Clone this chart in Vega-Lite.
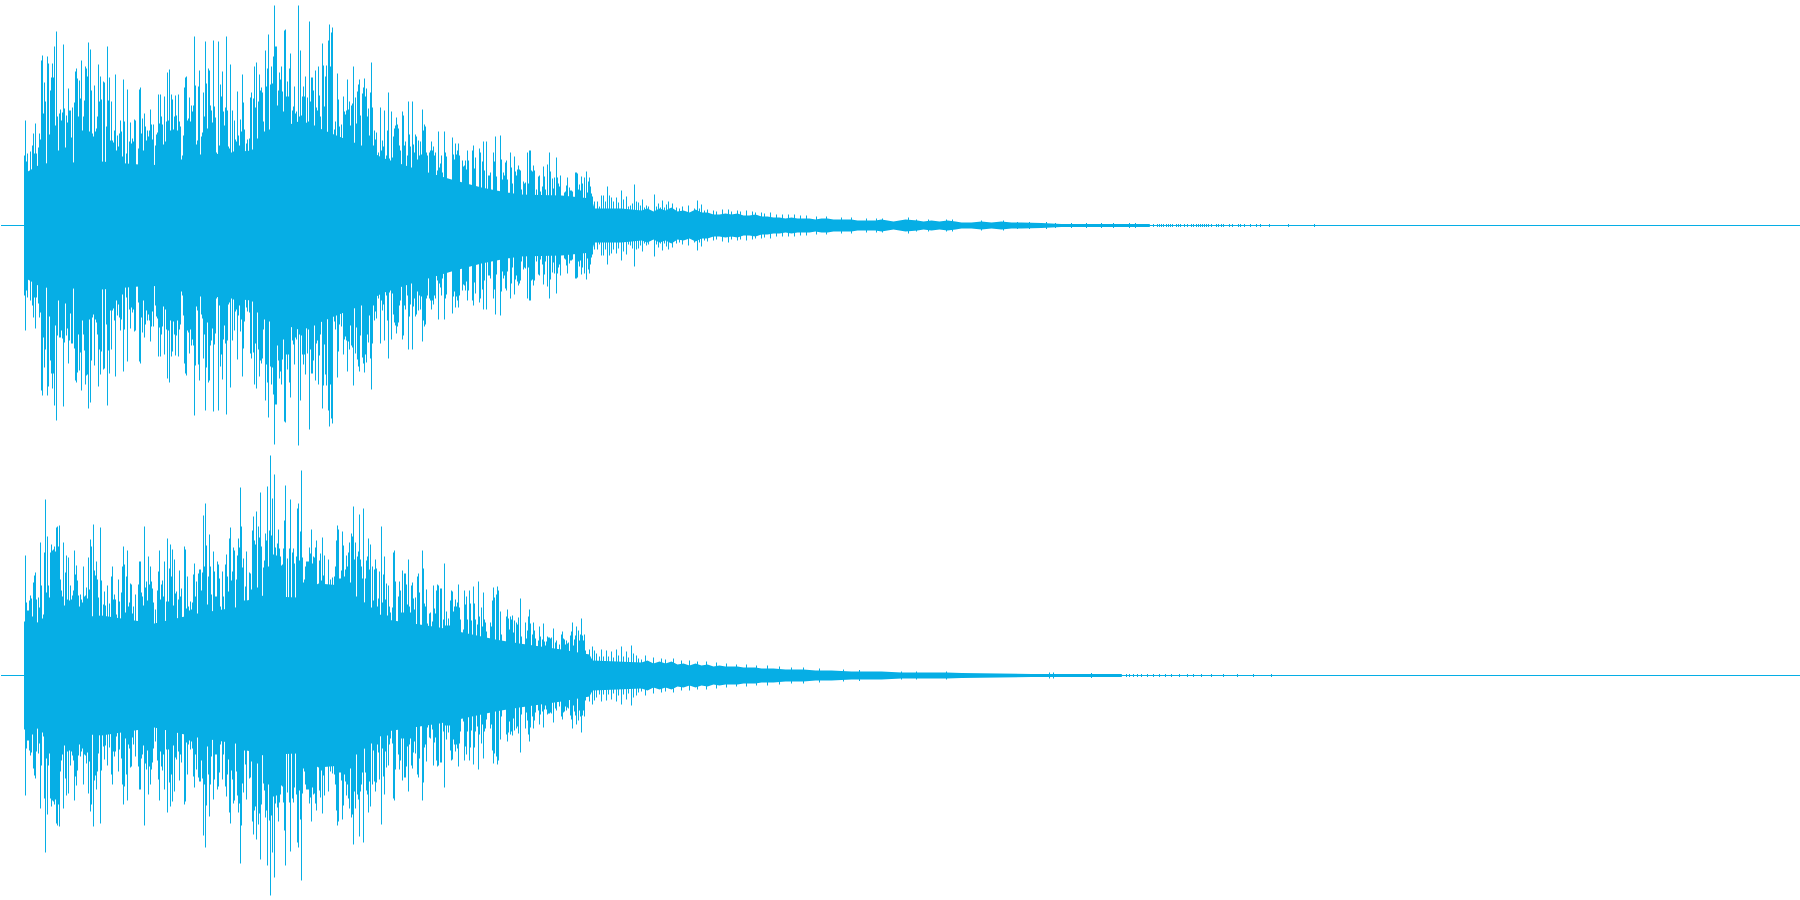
{"$schema":"https://vega.github.io/schema/vega-lite/v6.json","padding":0,"background":"#ffffff","spacing":0,"config":{"view":{"stroke":null},"concat":{"spacing":0}},
"datasets":{
"coreL":[{"t":23,"h":52,"l":-52},{"t":40,"h":62,"l":-62},{"t":100,"h":64,"l":-64},{"t":150,"h":60,"l":-60},{"t":200,"h":70,"l":-70},{"t":250,"h":75,"l":-75},{"t":270,"h":95,"l":-95},{"t":300,"h":105,"l":-105},{"t":330,"h":92,"l":-92},{"t":360,"h":80,"l":-80},{"t":380,"h":68,"l":-68},{"t":410,"h":58,"l":-58},{"t":450,"h":46,"l":-46},{"t":480,"h":38,"l":-38},{"t":500,"h":34,"l":-34},{"t":518,"h":31,"l":-31},{"t":560,"h":30,"l":-30},{"t":590,"h":27,"l":-27},{"t":593,"h":17,"l":-17},{"t":620,"h":17,"l":-17},{"t":640,"h":15,"l":-15},{"t":646,"h":17,"l":-17},{"t":652,"h":14,"l":-14},{"t":658,"h":17,"l":-17},{"t":664,"h":15,"l":-15},{"t":670,"h":18,"l":-18},{"t":676,"h":14,"l":-14},{"t":682,"h":15,"l":-15},{"t":688,"h":13,"l":-13},{"t":694,"h":16,"l":-16},{"t":700,"h":13,"l":-13},{"t":706,"h":13,"l":-13},{"t":712,"h":11,"l":-11},{"t":718,"h":11,"l":-11},{"t":724,"h":12,"l":-12},{"t":730,"h":11,"l":-11},{"t":736,"h":12,"l":-12},{"t":742,"h":10,"l":-10},{"t":748,"h":10,"l":-10},{"t":754,"h":11,"l":-11},{"t":760,"h":9,"l":-9},{"t":766,"h":9,"l":-9},{"t":772,"h":8,"l":-8},{"t":778,"h":8,"l":-8},{"t":784,"h":7,"l":-7},{"t":790,"h":8,"l":-8},{"t":796,"h":7,"l":-7},{"t":808,"h":7,"l":-7},{"t":814,"h":6,"l":-6},{"t":820,"h":7,"l":-7},{"t":826,"h":7,"l":-7},{"t":832,"h":6,"l":-6},{"t":850,"h":6,"l":-6},{"t":856,"h":5,"l":-5},{"t":874,"h":5,"l":-5},{"t":880,"h":6,"l":-6},{"t":886,"h":5,"l":-5},{"t":892,"h":4,"l":-4},{"t":898,"h":5,"l":-5},{"t":904,"h":6,"l":-6},{"t":916,"h":5,"l":-5},{"t":922,"h":4,"l":-4},{"t":930,"h":5,"l":-5},{"t":938,"h":4,"l":-4},{"t":946,"h":5,"l":-5},{"t":954,"h":4,"l":-4},{"t":960,"h":3,"l":-3},{"t":970,"h":3,"l":-3},{"t":980,"h":4,"l":-4},{"t":990,"h":3,"l":-3},{"t":1000,"h":4,"l":-4},{"t":1010,"h":3,"l":-3},{"t":1020,"h":3,"l":-3},{"t":1040,"h":2.5,"l":-2.5},{"t":1060,"h":1.5,"l":-1.5},{"t":1148,"h":1.5,"l":-1.5},{"t":1149,"h":0,"l":0}],
"coreR":[{"t":23,"h":47,"l":-47},{"t":40,"h":55,"l":-55},{"t":100,"h":60,"l":-60},{"t":153,"h":52,"l":-52},{"t":196,"h":62,"l":-62},{"t":234,"h":68,"l":-68},{"t":255,"h":80,"l":-80},{"t":294,"h":78,"l":-78},{"t":317,"h":92,"l":-92},{"t":340,"h":90,"l":-90},{"t":370,"h":68,"l":-68},{"t":385,"h":56,"l":-56},{"t":438,"h":48,"l":-48},{"t":494,"h":36,"l":-36},{"t":518,"h":32,"l":-32},{"t":560,"h":26,"l":-26},{"t":588,"h":21,"l":-21},{"t":591,"h":15,"l":-15},{"t":640,"h":13,"l":-13},{"t":646,"h":15,"l":-15},{"t":652,"h":12,"l":-12},{"t":658,"h":14,"l":-14},{"t":664,"h":12,"l":-12},{"t":670,"h":14,"l":-14},{"t":676,"h":11,"l":-11},{"t":682,"h":12,"l":-12},{"t":688,"h":10,"l":-10},{"t":694,"h":12,"l":-12},{"t":700,"h":10,"l":-10},{"t":706,"h":11,"l":-11},{"t":712,"h":9,"l":-9},{"t":718,"h":10,"l":-10},{"t":724,"h":9,"l":-9},{"t":736,"h":9,"l":-9},{"t":742,"h":8,"l":-8},{"t":754,"h":8,"l":-8},{"t":760,"h":7,"l":-7},{"t":772,"h":7,"l":-7},{"t":784,"h":6,"l":-6},{"t":802,"h":6,"l":-6},{"t":814,"h":5,"l":-5},{"t":830,"h":5,"l":-5},{"t":850,"h":4,"l":-4},{"t":880,"h":4,"l":-4},{"t":900,"h":3,"l":-3},{"t":945,"h":3,"l":-3},{"t":960,"h":2.5,"l":-2.5},{"t":1030,"h":1.5,"l":-1.5},{"t":1120,"h":1.5,"l":-1.5},{"t":1121,"h":0,"l":0}],
"L":[{"t":23,"h":70,"l":-70},{"t":24,"h":105,"l":-105},{"t":25,"h":64,"l":-65},{"t":26,"h":72,"l":-72},{"t":29,"h":74,"l":-75},{"t":31,"h":80,"l":-80},{"t":32,"h":92,"l":-92},{"t":33,"h":72,"l":-72},{"t":34,"h":102,"l":-103},{"t":35,"h":72,"l":-72},{"t":37,"h":78,"l":-78},{"t":38,"h":92,"l":-92},{"t":39,"h":86,"l":-87},{"t":40,"h":165,"l":-165},{"t":41,"h":170,"l":-170},{"t":42,"h":112,"l":-112},{"t":43,"h":143,"l":-142},{"t":44,"h":124,"l":-124},{"t":46,"h":169,"l":-170},{"t":47,"h":162,"l":-161},{"t":48,"h":91,"l":-91},{"t":49,"h":135,"l":-135},{"t":50,"h":148,"l":-148},{"t":51,"h":162,"l":-163},{"t":52,"h":148,"l":-148},{"t":53,"h":179,"l":-180},{"t":54,"h":100,"l":-100},{"t":55,"h":194,"l":-195},{"t":56,"h":109,"l":-110},{"t":57,"h":75,"l":-75},{"t":58,"h":112,"l":-112},{"t":59,"h":116,"l":-112},{"t":60,"h":105,"l":-105},{"t":61,"h":113,"l":-113},{"t":62,"h":181,"l":-181},{"t":63,"h":117,"l":-117},{"t":64,"h":78,"l":-78},{"t":65,"h":110,"l":-110},{"t":66,"h":103,"l":-103},{"t":67,"h":137,"l":-138},{"t":68,"h":115,"l":-115},{"t":69,"h":115,"l":-88},{"t":70,"h":88,"l":-118},{"t":71,"h":118,"l":-118},{"t":73,"h":123,"l":-123},{"t":74,"h":154,"l":-155},{"t":75,"h":157,"l":-157},{"t":76,"h":147,"l":-147},{"t":77,"h":109,"l":-109},{"t":78,"h":145,"l":-145},{"t":79,"h":127,"l":-127},{"t":80,"h":165,"l":-165},{"t":81,"h":95,"l":-95},{"t":82,"h":109,"l":-109},{"t":83,"h":125,"l":-125},{"t":84,"h":159,"l":-159},{"t":85,"h":157,"l":-150},{"t":86,"h":149,"l":-149},{"t":87,"h":183,"l":-183},{"t":88,"h":94,"l":-94},{"t":89,"h":176,"l":-177},{"t":90,"h":135,"l":-135},{"t":91,"h":92,"l":-92},{"t":92,"h":89,"l":-89},{"t":93,"h":140,"l":-140},{"t":94,"h":94,"l":-94},{"t":95,"h":97,"l":-97},{"t":96,"h":109,"l":-109},{"t":97,"h":161,"l":-161},{"t":98,"h":124,"l":-124},{"t":99,"h":149,"l":-149},{"t":100,"h":126,"l":-126},{"t":102,"h":144,"l":-144},{"t":103,"h":143,"l":-143},{"t":105,"h":99,"l":-99},{"t":106,"h":179,"l":-180},{"t":107,"h":125,"l":-125},{"t":108,"h":148,"l":-148},{"t":109,"h":85,"l":-85},{"t":110,"h":124,"l":-124},{"t":111,"h":85,"l":-85},{"t":112,"h":83,"l":-83},{"t":113,"h":95,"l":-95},{"t":114,"h":151,"l":-151},{"t":115,"h":75,"l":-75},{"t":116,"h":90,"l":-90},{"t":117,"h":79,"l":-79},{"t":118,"h":92,"l":-92},{"t":119,"h":105,"l":-105},{"t":120,"h":94,"l":-94},{"t":121,"h":69,"l":-69},{"t":122,"h":146,"l":-146},{"t":123,"h":104,"l":-104},{"t":125,"h":72,"l":-72},{"t":126,"h":136,"l":-136},{"t":128,"h":84,"l":-84},{"t":129,"h":103,"l":-103},{"t":130,"h":82,"l":-82},{"t":131,"h":87,"l":-87},{"t":132,"h":84,"l":-84},{"t":133,"h":106,"l":-106},{"t":134,"h":105,"l":-105},{"t":137,"h":77,"l":-77},{"t":138,"h":136,"l":-136},{"t":139,"h":138,"l":-138},{"t":140,"h":92,"l":-92},{"t":141,"h":107,"l":-107},{"t":142,"h":75,"l":-75},{"t":143,"h":112,"l":-112},{"t":144,"h":99,"l":-99},{"t":145,"h":85,"l":-85},{"t":146,"h":95,"l":-95},{"t":147,"h":89,"l":-89},{"t":148,"h":95,"l":-95},{"t":149,"h":116,"l":-116},{"t":150,"h":101,"l":-101},{"t":151,"h":86,"l":-86},{"t":152,"h":101,"l":-101},{"t":154,"h":80,"l":-80},{"t":155,"h":91,"l":-91},{"t":156,"h":93,"l":-93},{"t":157,"h":131,"l":-131},{"t":158,"h":102,"l":-102},{"t":159,"h":131,"l":-131},{"t":160,"h":109,"l":-109},{"t":161,"h":101,"l":-101},{"t":162,"h":81,"l":-81},{"t":163,"h":129,"l":-129},{"t":164,"h":84,"l":-84},{"t":165,"h":104,"l":-104},{"t":166,"h":153,"l":-153},{"t":167,"h":105,"l":-105},{"t":168,"h":156,"l":-157},{"t":169,"h":95,"l":-95},{"t":170,"h":131,"l":-131},{"t":171,"h":126,"l":-126},{"t":172,"h":96,"l":-96},{"t":173,"h":109,"l":-109},{"t":174,"h":130,"l":-130},{"t":175,"h":110,"l":-110},{"t":176,"h":95,"l":-95},{"t":177,"h":131,"l":-131},{"t":178,"h":104,"l":-104},{"t":179,"h":99,"l":-99},{"t":181,"h":70,"l":-70},{"t":182,"h":90,"l":-90},{"t":183,"h":138,"l":-138},{"t":184,"h":148,"l":-148},{"t":185,"h":149,"l":-150},{"t":186,"h":105,"l":-105},{"t":187,"h":107,"l":-107},{"t":188,"h":128,"l":-128},{"t":189,"h":104,"l":-104},{"t":190,"h":120,"l":-120},{"t":191,"h":114,"l":-114},{"t":192,"h":120,"l":-120},{"t":193,"h":189,"l":-190},{"t":194,"h":140,"l":-140},{"t":195,"h":81,"l":-81},{"t":196,"h":85,"l":-85},{"t":197,"h":139,"l":-139},{"t":198,"h":155,"l":-155},{"t":199,"h":71,"l":-71},{"t":200,"h":89,"l":-89},{"t":201,"h":93,"l":-93},{"t":202,"h":133,"l":-133},{"t":203,"h":109,"l":-109},{"t":204,"h":184,"l":-185},{"t":205,"h":142,"l":-142},{"t":206,"h":97,"l":-97},{"t":207,"h":157,"l":-157},{"t":208,"h":155,"l":-155},{"t":209,"h":120,"l":-120},{"t":210,"h":115,"l":-115},{"t":211,"h":103,"l":-103},{"t":212,"h":185,"l":-186},{"t":213,"h":119,"l":-119},{"t":214,"h":108,"l":-108},{"t":215,"h":73,"l":-73},{"t":217,"h":184,"l":-185},{"t":218,"h":80,"l":-80},{"t":219,"h":141,"l":-141},{"t":220,"h":129,"l":-129},{"t":221,"h":154,"l":-154},{"t":222,"h":114,"l":-114},{"t":223,"h":100,"l":-100},{"t":224,"h":118,"l":-118},{"t":225,"h":189,"l":-189},{"t":226,"h":115,"l":-115},{"t":227,"h":79,"l":-79},{"t":228,"h":77,"l":-77},{"t":229,"h":161,"l":-162},{"t":231,"h":115,"l":-115},{"t":232,"h":74,"l":-74},{"t":233,"h":105,"l":-105},{"t":234,"h":86,"l":-86},{"t":235,"h":84,"l":-84},{"t":236,"h":134,"l":-134},{"t":237,"h":90,"l":-90},{"t":238,"h":80,"l":-80},{"t":239,"h":106,"l":-106},{"t":240,"h":94,"l":-94},{"t":241,"h":151,"l":-151},{"t":242,"h":123,"l":-123},{"t":243,"h":96,"l":-96},{"t":245,"h":82,"l":-82},{"t":246,"h":86,"l":-86},{"t":248,"h":87,"l":-87},{"t":249,"h":128,"l":-128},{"t":250,"h":133,"l":-133},{"t":252,"h":127,"l":-127},{"t":253,"h":159,"l":-159},{"t":254,"h":118,"l":-118},{"t":255,"h":163,"l":-163},{"t":256,"h":87,"l":-87},{"t":257,"h":124,"l":-124},{"t":258,"h":151,"l":-151},{"t":259,"h":135,"l":-135},{"t":260,"h":138,"l":-138},{"t":261,"h":133,"l":-133},{"t":262,"h":104,"l":-104},{"t":263,"h":94,"l":-94},{"t":264,"h":175,"l":-175},{"t":265,"h":139,"l":-139},{"t":266,"h":157,"l":-157},{"t":267,"h":191,"l":-192},{"t":268,"h":96,"l":-96},{"t":269,"h":141,"l":-141},{"t":270,"h":159,"l":-159},{"t":271,"h":142,"l":-142},{"t":272,"h":169,"l":-169},{"t":273,"h":220,"l":-219},{"t":274,"h":179,"l":-179},{"t":275,"h":179,"l":-179},{"t":276,"h":120,"l":-120},{"t":277,"h":135,"l":-135},{"t":278,"h":153,"l":-153},{"t":279,"h":146,"l":-146},{"t":280,"h":159,"l":-159},{"t":281,"h":134,"l":-134},{"t":282,"h":114,"l":-114},{"t":283,"h":195,"l":-196},{"t":284,"h":196,"l":-197},{"t":285,"h":129,"l":-129},{"t":286,"h":144,"l":-144},{"t":287,"h":129,"l":-129},{"t":288,"h":157,"l":-157},{"t":289,"h":172,"l":-172},{"t":291,"h":115,"l":-115},{"t":292,"h":119,"l":-119},{"t":293,"h":139,"l":-139},{"t":294,"h":112,"l":-112},{"t":295,"h":114,"l":-114},{"t":297,"h":220,"l":-220},{"t":298,"h":109,"l":-109},{"t":299,"h":175,"l":-175},{"t":300,"h":110,"l":-110},{"t":301,"h":129,"l":-129},{"t":302,"h":139,"l":-139},{"t":303,"h":129,"l":-129},{"t":304,"h":149,"l":-149},{"t":306,"h":128,"l":-128},{"t":307,"h":104,"l":-104},{"t":308,"h":204,"l":-204},{"t":309,"h":124,"l":-124},{"t":310,"h":148,"l":-148},{"t":311,"h":148,"l":-148},{"t":312,"h":135,"l":-135},{"t":313,"h":100,"l":-100},{"t":314,"h":155,"l":-155},{"t":315,"h":118,"l":-118},{"t":316,"h":115,"l":-115},{"t":317,"h":159,"l":-159},{"t":318,"h":130,"l":-130},{"t":319,"h":109,"l":-109},{"t":321,"h":182,"l":-183},{"t":322,"h":160,"l":-160},{"t":323,"h":119,"l":-119},{"t":324,"h":149,"l":-149},{"t":325,"h":160,"l":-160},{"t":327,"h":185,"l":-185},{"t":328,"h":201,"l":-201},{"t":329,"h":159,"l":-159},{"t":330,"h":193,"l":-193},{"t":331,"h":198,"l":-198},{"t":333,"h":96,"l":-96},{"t":334,"h":104,"l":-104},{"t":336,"h":152,"l":-152},{"t":337,"h":126,"l":-126},{"t":338,"h":99,"l":-99},{"t":340,"h":101,"l":-101},{"t":342,"h":129,"l":-129},{"t":343,"h":114,"l":-114},{"t":344,"h":111,"l":-111},{"t":345,"h":115,"l":-115},{"t":346,"h":146,"l":-146},{"t":347,"h":116,"l":-116},{"t":348,"h":124,"l":-124},{"t":349,"h":100,"l":-100},{"t":350,"h":120,"l":-120},{"t":351,"h":122,"l":-122},{"t":352,"h":159,"l":-160},{"t":354,"h":128,"l":-128},{"t":355,"h":102,"l":-102},{"t":356,"h":134,"l":-134},{"t":357,"h":141,"l":-141},{"t":358,"h":146,"l":-146},{"t":359,"h":110,"l":-110},{"t":361,"h":132,"l":-132},{"t":362,"h":138,"l":-138},{"t":363,"h":147,"l":-147},{"t":364,"h":129,"l":-129},{"t":365,"h":137,"l":-137},{"t":366,"h":109,"l":-109},{"t":367,"h":117,"l":-117},{"t":368,"h":90,"l":-90},{"t":369,"h":133,"l":-133},{"t":370,"h":163,"l":-164},{"t":371,"h":118,"l":-118},{"t":372,"h":80,"l":-80},{"t":373,"h":95,"l":-95},{"t":374,"h":86,"l":-86},{"t":375,"h":93,"l":-93},{"t":377,"h":73,"l":-73},{"t":379,"h":118,"l":-118},{"t":380,"h":75,"l":-75},{"t":381,"h":85,"l":-85},{"t":382,"h":79,"l":-79},{"t":383,"h":115,"l":-115},{"t":385,"h":70,"l":-70},{"t":386,"h":95,"l":-95},{"t":387,"h":133,"l":-133},{"t":388,"h":67,"l":-67},{"t":390,"h":114,"l":-114},{"t":391,"h":68,"l":-68},{"t":392,"h":89,"l":-89},{"t":393,"h":97,"l":-97},{"t":394,"h":100,"l":-100},{"t":395,"h":108,"l":-108},{"t":396,"h":101,"l":-101},{"t":397,"h":97,"l":-97},{"t":398,"h":80,"l":-80},{"t":399,"h":75,"l":-75},{"t":401,"h":114,"l":-114},{"t":402,"h":110,"l":-110},{"t":403,"h":80,"l":-80},{"t":404,"h":84,"l":-84},{"t":406,"h":70,"l":-70},{"t":407,"h":124,"l":-124},{"t":408,"h":91,"l":-91},{"t":409,"h":79,"l":-79},{"t":411,"h":124,"l":-124},{"t":412,"h":81,"l":-81},{"t":413,"h":73,"l":-73},{"t":414,"h":91,"l":-91},{"t":415,"h":89,"l":-89},{"t":416,"h":66,"l":-66},{"t":417,"h":85,"l":-85},{"t":418,"h":70,"l":-70},{"t":419,"h":84,"l":-84},{"t":420,"h":71,"l":-71},{"t":421,"h":116,"l":-116},{"t":422,"h":95,"l":-95},{"t":423,"h":101,"l":-101},{"t":424,"h":99,"l":-99},{"t":425,"h":73,"l":-73},{"t":426,"h":70,"l":-70},{"t":428,"h":73,"l":-73},{"t":429,"h":75,"l":-75},{"t":430,"h":84,"l":-84},{"t":431,"h":75,"l":-75},{"t":432,"h":79,"l":-79},{"t":433,"h":70,"l":-70},{"t":434,"h":73,"l":-73},{"t":436,"h":55,"l":-55},{"t":437,"h":94,"l":-94},{"t":438,"h":58,"l":-58},{"t":439,"h":62,"l":-62},{"t":440,"h":70,"l":-70},{"t":441,"h":53,"l":-53},{"t":443,"h":94,"l":-94},{"t":444,"h":73,"l":-73},{"t":445,"h":69,"l":-69},{"t":451,"h":88,"l":-88},{"t":452,"h":71,"l":-71},{"t":453,"h":66,"l":-66},{"t":454,"h":82,"l":-82},{"t":455,"h":71,"l":-71},{"t":456,"h":75,"l":-75},{"t":457,"h":82,"l":-82},{"t":458,"h":70,"l":-70},{"t":461,"h":65,"l":-65},{"t":462,"h":59,"l":-59},{"t":463,"h":60,"l":-60},{"t":464,"h":65,"l":-65},{"t":465,"h":56,"l":-56},{"t":466,"h":75,"l":-75},{"t":467,"h":65,"l":-65},{"t":471,"h":75,"l":-75},{"t":472,"h":80,"l":-80},{"t":473,"h":57,"l":-57},{"t":474,"h":68,"l":-68},{"t":478,"h":77,"l":-77},{"t":479,"h":73,"l":-73},{"t":481,"h":64,"l":-64},{"t":482,"h":84,"l":-84},{"t":483,"h":55,"l":-55},{"t":485,"h":84,"l":-84},{"t":487,"h":50,"l":-50},{"t":488,"h":50,"l":-50},{"t":489,"h":53,"l":-53},{"t":492,"h":73,"l":-73},{"t":493,"h":64,"l":-64},{"t":494,"h":89,"l":-89},{"t":495,"h":49,"l":-49},{"t":499,"h":90,"l":-90},{"t":500,"h":66,"l":-66},{"t":501,"h":46,"l":-46},{"t":502,"h":53,"l":-53},{"t":503,"h":50,"l":-50},{"t":504,"h":63,"l":-63},{"t":505,"h":65,"l":-65},{"t":506,"h":46,"l":-46},{"t":509,"h":73,"l":-73},{"t":510,"h":58,"l":-58},{"t":511,"h":42,"l":-42},{"t":513,"h":69,"l":-69},{"t":514,"h":54,"l":-54},{"t":515,"h":50,"l":-50},{"t":516,"h":56,"l":-56},{"t":517,"h":60,"l":-60},{"t":518,"h":56,"l":-58},{"t":519,"h":55,"l":-55},{"t":520,"h":36,"l":-36},{"t":522,"h":44,"l":-44},{"t":523,"h":42,"l":-42},{"t":524,"h":43,"l":-43},{"t":526,"h":73,"l":-73},{"t":527,"h":42,"l":-42},{"t":528,"h":75,"l":-75},{"t":529,"h":75,"l":-75},{"t":530,"h":55,"l":-55},{"t":531,"h":54,"l":-54},{"t":532,"h":60,"l":-60},{"t":533,"h":55,"l":-55},{"t":535,"h":36,"l":-36},{"t":537,"h":49,"l":-49},{"t":538,"h":50,"l":-50},{"t":539,"h":34,"l":-34},{"t":541,"h":39,"l":-39},{"t":542,"h":59,"l":-59},{"t":543,"h":49,"l":-49},{"t":544,"h":36,"l":-36},{"t":546,"h":61,"l":-61},{"t":548,"h":73,"l":-73},{"t":549,"h":54,"l":-54},{"t":551,"h":47,"l":-47},{"t":552,"h":37,"l":-37},{"t":553,"h":48,"l":-48},{"t":555,"h":68,"l":-68},{"t":556,"h":48,"l":-48},{"t":557,"h":42,"l":-42},{"t":558,"h":39,"l":-39},{"t":559,"h":50,"l":-50},{"t":563,"h":33,"l":-33},{"t":564,"h":34,"l":-34},{"t":565,"h":40,"l":-40},{"t":566,"h":48,"l":-48},{"t":568,"h":38,"l":-38},{"t":569,"h":35,"l":-35},{"t":570,"h":35,"l":-35},{"t":571,"h":34,"l":-34},{"t":574,"h":53,"l":-53},{"t":575,"h":53,"l":-53},{"t":576,"h":52,"l":-52},{"t":577,"h":36,"l":-36},{"t":578,"h":41,"l":-41},{"t":579,"h":35,"l":-35},{"t":580,"h":49,"l":-49},{"t":581,"h":42,"l":-42},{"t":583,"h":48,"l":-48},{"t":585,"h":54,"l":-54},{"t":586,"h":33,"l":-33},{"t":587,"h":44,"l":-44},{"t":588,"h":48,"l":-48},{"t":589,"h":39,"l":-39},{"t":590,"h":32,"l":-32},{"t":591,"h":29,"l":-29},{"t":593,"h":24,"l":-24},{"t":596,"h":24,"l":-24},{"t":598,"h":19,"l":-19},{"t":600,"h":30,"l":-30},{"t":602,"h":30,"l":-30},{"t":604,"h":24,"l":-24},{"t":606,"h":39,"l":-39},{"t":608,"h":30,"l":-30},{"t":610,"h":28,"l":-28},{"t":612,"h":24,"l":-24},{"t":615,"h":28,"l":-28},{"t":617,"h":23,"l":-23},{"t":620,"h":35,"l":-35},{"t":622,"h":26,"l":-26},{"t":625,"h":29,"l":-29},{"t":627,"h":19,"l":-19},{"t":629,"h":20,"l":-20},{"t":631,"h":22,"l":-23},{"t":633,"h":41,"l":-41},{"t":635,"h":24,"l":-24},{"t":637,"h":23,"l":-23},{"t":639,"h":20,"l":-20},{"t":641,"h":26,"l":-26},{"t":643,"h":18,"l":-18},{"t":645,"h":20,"l":-20},{"t":647,"h":19,"l":-19},{"t":653,"h":31,"l":-31},{"t":655,"h":19,"l":-19},{"t":657,"h":22,"l":-22},{"t":659,"h":18,"l":-18},{"t":661,"h":25,"l":-25},{"t":663,"h":18,"l":-18},{"t":665,"h":21,"l":-21},{"t":667,"h":24,"l":-24},{"t":671,"h":22,"l":-22},{"t":675,"h":18,"l":-18},{"t":678,"h":17,"l":-17},{"t":681,"h":19,"l":-19},{"t":687,"h":20,"l":-20},{"t":693,"h":17,"l":-17},{"t":696,"h":25,"l":-25},{"t":698,"h":17,"l":-17},{"t":700,"h":21,"l":-21},{"t":703,"h":15,"l":-15},{"t":706,"h":16,"l":-16},{"t":712,"h":15,"l":-15},{"t":715,"h":14,"l":-14},{"t":721,"h":16,"l":-16},{"t":727,"h":16,"l":-17},{"t":730,"h":14,"l":-14},{"t":736,"h":15,"l":-15},{"t":739,"h":14,"l":-14},{"t":745,"h":15,"l":-15},{"t":751,"h":14,"l":-14},{"t":754,"h":13,"l":-13},{"t":760,"h":13,"l":-13},{"t":763,"h":12,"l":-12},{"t":769,"h":13,"l":-13},{"t":775,"h":11,"l":-11},{"t":781,"h":11,"l":-11},{"t":787,"h":11,"l":-11},{"t":793,"h":11,"l":-11},{"t":799,"h":10,"l":-10},{"t":805,"h":10,"l":-10},{"t":815,"h":9,"l":-9},{"t":825,"h":9,"l":-9},{"t":840,"h":8,"l":-8},{"t":850,"h":8,"l":-8},{"t":865,"h":7,"l":-7},{"t":875,"h":7,"l":-7},{"t":881,"h":7,"l":-7},{"t":907,"h":8,"l":-8},{"t":915,"h":6,"l":-6},{"t":927,"h":6,"l":-6},{"t":945,"h":6,"l":-6},{"t":951,"h":6,"l":-6},{"t":980,"h":5,"l":-5},{"t":1002,"h":5,"l":-5},{"t":1016,"h":3.5,"l":-3.5},{"t":1028,"h":3.5,"l":-3.5},{"t":1045,"h":3.5,"l":-3.5},{"t":1054,"h":2.5,"l":-2.5},{"t":1070,"h":2.5,"l":-2.5},{"t":1085,"h":2.5,"l":-2.5},{"t":1100,"h":2.5,"l":-2.5},{"t":1112,"h":2.5,"l":-2.5},{"t":1128,"h":2.5,"l":-2.5},{"t":1134,"h":2.5,"l":-2.5},{"t":1152,"h":1.5,"l":-1.5},{"t":1156,"h":1.5,"l":-1.5},{"t":1158,"h":1.5,"l":-1.5},{"t":1160,"h":1.5,"l":-1.5},{"t":1162,"h":1.5,"l":-1.5},{"t":1165,"h":1.5,"l":-1.5},{"t":1167,"h":1.5,"l":-1.5},{"t":1169,"h":1.5,"l":-1.5},{"t":1171,"h":1.5,"l":-1.5},{"t":1175,"h":1.5,"l":-1.5},{"t":1177,"h":1.5,"l":-1.5},{"t":1179,"h":1.5,"l":-1.5},{"t":1183,"h":1.5,"l":-1.5},{"t":1186,"h":1.5,"l":-1.5},{"t":1190,"h":1.5,"l":-1.5},{"t":1192,"h":1.5,"l":-1.5},{"t":1195,"h":1.5,"l":-1.5},{"t":1197,"h":1.5,"l":-1.5},{"t":1199,"h":1.5,"l":-1.5},{"t":1201,"h":1.5,"l":-1.5},{"t":1203,"h":1.5,"l":-1.5},{"t":1205,"h":1.5,"l":-1.5},{"t":1207,"h":1.5,"l":-1.5},{"t":1210,"h":1.5,"l":-1.5},{"t":1215,"h":1.5,"l":-1.5},{"t":1217,"h":1.5,"l":-1.5},{"t":1220,"h":1.5,"l":-1.5},{"t":1222,"h":1.5,"l":-1.5},{"t":1228,"h":1.5,"l":-1.5},{"t":1231,"h":1.5,"l":-1.5},{"t":1237,"h":1.5,"l":-1.5},{"t":1239,"h":1.5,"l":-1.5},{"t":1243,"h":1.5,"l":-1.5},{"t":1249,"h":1.5,"l":-1.5},{"t":1255,"h":1.5,"l":-1.5},{"t":1259,"h":1.5,"l":-1.5},{"t":1268,"h":1.5,"l":-1.5},{"t":1287,"h":1.5,"l":-1.5},{"t":1313,"h":1.5,"l":-1.5}],
"R":[{"t":23,"h":54,"l":-54},{"t":24,"h":120,"l":-120},{"t":25,"h":73,"l":-73},{"t":26,"h":65,"l":-65},{"t":27,"h":65,"l":-65},{"t":28,"h":75,"l":-75},{"t":29,"h":80,"l":-80},{"t":30,"h":77,"l":-77},{"t":31,"h":59,"l":-59},{"t":32,"h":93,"l":-93},{"t":33,"h":100,"l":-100},{"t":34,"h":103,"l":-103},{"t":35,"h":76,"l":-76},{"t":37,"h":78,"l":-78},{"t":38,"h":68,"l":-68},{"t":39,"h":133,"l":-133},{"t":40,"h":90,"l":-90},{"t":41,"h":57,"l":-57},{"t":42,"h":61,"l":-61},{"t":43,"h":123,"l":-123},{"t":44,"h":176,"l":-177},{"t":45,"h":83,"l":-83},{"t":46,"h":139,"l":-139},{"t":47,"h":90,"l":-90},{"t":48,"h":78,"l":-78},{"t":49,"h":123,"l":-123},{"t":50,"h":131,"l":-131},{"t":51,"h":125,"l":-125},{"t":52,"h":126,"l":-126},{"t":53,"h":129,"l":-129},{"t":54,"h":124,"l":-124},{"t":55,"h":148,"l":-148},{"t":56,"h":149,"l":-150},{"t":57,"h":129,"l":-129},{"t":58,"h":150,"l":-151},{"t":59,"h":96,"l":-96},{"t":60,"h":85,"l":-85},{"t":61,"h":79,"l":-79},{"t":62,"h":133,"l":-133},{"t":63,"h":70,"l":-70},{"t":64,"h":103,"l":-103},{"t":65,"h":120,"l":-120},{"t":66,"h":76,"l":-76},{"t":67,"h":118,"l":-118},{"t":68,"h":75,"l":-75},{"t":69,"h":90,"l":-90},{"t":70,"h":76,"l":-76},{"t":71,"h":80,"l":-80},{"t":72,"h":85,"l":-85},{"t":73,"h":125,"l":-125},{"t":74,"h":101,"l":-101},{"t":75,"h":110,"l":-110},{"t":76,"h":95,"l":-95},{"t":77,"h":80,"l":-80},{"t":78,"h":69,"l":-69},{"t":79,"h":81,"l":-81},{"t":80,"h":76,"l":-76},{"t":81,"h":73,"l":-73},{"t":82,"h":109,"l":-109},{"t":83,"h":79,"l":-79},{"t":84,"h":80,"l":-80},{"t":85,"h":88,"l":-88},{"t":86,"h":77,"l":-77},{"t":87,"h":118,"l":-118},{"t":88,"h":86,"l":-86},{"t":89,"h":136,"l":-136},{"t":90,"h":129,"l":-129},{"t":92,"h":151,"l":-151},{"t":93,"h":105,"l":-105},{"t":94,"h":100,"l":-100},{"t":95,"h":114,"l":-114},{"t":96,"h":96,"l":-96},{"t":97,"h":78,"l":-78},{"t":99,"h":148,"l":-148},{"t":100,"h":95,"l":-95},{"t":102,"h":71,"l":-71},{"t":103,"h":84,"l":-84},{"t":104,"h":70,"l":-70},{"t":106,"h":90,"l":-90},{"t":108,"h":72,"l":-72},{"t":110,"h":99,"l":-99},{"t":111,"h":109,"l":-109},{"t":112,"h":76,"l":-76},{"t":113,"h":81,"l":-81},{"t":114,"h":76,"l":-76},{"t":115,"h":61,"l":-61},{"t":117,"h":96,"l":-96},{"t":118,"h":74,"l":-74},{"t":120,"h":83,"l":-83},{"t":121,"h":109,"l":-109},{"t":122,"h":129,"l":-129},{"t":123,"h":111,"l":-111},{"t":124,"h":63,"l":-63},{"t":125,"h":99,"l":-99},{"t":126,"h":125,"l":-125},{"t":127,"h":69,"l":-69},{"t":128,"h":73,"l":-73},{"t":129,"h":92,"l":-92},{"t":130,"h":91,"l":-91},{"t":131,"h":62,"l":-62},{"t":132,"h":69,"l":-69},{"t":134,"h":81,"l":-81},{"t":137,"h":91,"l":-91},{"t":138,"h":114,"l":-114},{"t":139,"h":114,"l":-114},{"t":140,"h":83,"l":-83},{"t":141,"h":79,"l":-79},{"t":142,"h":70,"l":-70},{"t":143,"h":149,"l":-150},{"t":144,"h":88,"l":-88},{"t":145,"h":94,"l":-94},{"t":146,"h":75,"l":-75},{"t":147,"h":119,"l":-119},{"t":148,"h":91,"l":-91},{"t":149,"h":109,"l":-109},{"t":150,"h":94,"l":-94},{"t":151,"h":87,"l":-87},{"t":152,"h":73,"l":-73},{"t":154,"h":66,"l":-66},{"t":156,"h":85,"l":-85},{"t":157,"h":104,"l":-104},{"t":158,"h":125,"l":-125},{"t":159,"h":76,"l":-76},{"t":160,"h":91,"l":-91},{"t":161,"h":95,"l":-95},{"t":162,"h":79,"l":-79},{"t":163,"h":114,"l":-114},{"t":165,"h":74,"l":-74},{"t":166,"h":137,"l":-137},{"t":167,"h":74,"l":-74},{"t":168,"h":107,"l":-107},{"t":169,"h":131,"l":-131},{"t":170,"h":99,"l":-99},{"t":171,"h":126,"l":-126},{"t":172,"h":70,"l":-70},{"t":173,"h":116,"l":-116},{"t":174,"h":82,"l":-82},{"t":175,"h":84,"l":-84},{"t":177,"h":76,"l":-76},{"t":178,"h":105,"l":-105},{"t":179,"h":79,"l":-79},{"t":180,"h":87,"l":-87},{"t":183,"h":129,"l":-129},{"t":184,"h":126,"l":-126},{"t":185,"h":67,"l":-67},{"t":186,"h":99,"l":-99},{"t":187,"h":69,"l":-69},{"t":188,"h":65,"l":-65},{"t":189,"h":74,"l":-74},{"t":190,"h":66,"l":-66},{"t":191,"h":73,"l":-73},{"t":192,"h":101,"l":-101},{"t":193,"h":112,"l":-112},{"t":194,"h":79,"l":-79},{"t":195,"h":94,"l":-94},{"t":197,"h":102,"l":-102},{"t":198,"h":106,"l":-106},{"t":199,"h":106,"l":-106},{"t":200,"h":85,"l":-85},{"t":201,"h":103,"l":-103},{"t":202,"h":160,"l":-160},{"t":203,"h":109,"l":-109},{"t":204,"h":172,"l":-172},{"t":205,"h":130,"l":-130},{"t":206,"h":71,"l":-71},{"t":207,"h":99,"l":-99},{"t":208,"h":141,"l":-141},{"t":209,"h":109,"l":-109},{"t":210,"h":81,"l":-81},{"t":212,"h":124,"l":-124},{"t":213,"h":104,"l":-104},{"t":214,"h":79,"l":-79},{"t":215,"h":79,"l":-79},{"t":216,"h":114,"l":-114},{"t":217,"h":111,"l":-111},{"t":218,"h":97,"l":-97},{"t":219,"h":69,"l":-69},{"t":221,"h":104,"l":-104},{"t":222,"h":79,"l":-79},{"t":224,"h":111,"l":-111},{"t":225,"h":121,"l":-121},{"t":226,"h":99,"l":-99},{"t":227,"h":84,"l":-84},{"t":228,"h":137,"l":-137},{"t":229,"h":148,"l":-148},{"t":230,"h":95,"l":-95},{"t":231,"h":104,"l":-104},{"t":232,"h":128,"l":-128},{"t":233,"h":125,"l":-125},{"t":235,"h":96,"l":-96},{"t":236,"h":120,"l":-120},{"t":237,"h":137,"l":-137},{"t":238,"h":128,"l":-128},{"t":239,"h":188,"l":-188},{"t":240,"h":149,"l":-150},{"t":241,"h":108,"l":-108},{"t":242,"h":117,"l":-117},{"t":243,"h":75,"l":-75},{"t":244,"h":89,"l":-89},{"t":245,"h":124,"l":-124},{"t":246,"h":75,"l":-75},{"t":247,"h":74,"l":-74},{"t":248,"h":103,"l":-103},{"t":249,"h":102,"l":-102},{"t":250,"h":86,"l":-86},{"t":251,"h":145,"l":-146},{"t":252,"h":159,"l":-159},{"t":253,"h":135,"l":-135},{"t":254,"h":131,"l":-131},{"t":255,"h":164,"l":-164},{"t":256,"h":88,"l":-88},{"t":257,"h":149,"l":-149},{"t":258,"h":138,"l":-138},{"t":259,"h":183,"l":-184},{"t":260,"h":129,"l":-129},{"t":262,"h":108,"l":-108},{"t":263,"h":115,"l":-115},{"t":264,"h":142,"l":-142},{"t":265,"h":135,"l":-135},{"t":266,"h":189,"l":-190},{"t":267,"h":109,"l":-109},{"t":268,"h":145,"l":-145},{"t":269,"h":220,"l":-220},{"t":270,"h":140,"l":-140},{"t":271,"h":177,"l":-177},{"t":272,"h":121,"l":-121},{"t":273,"h":201,"l":-202},{"t":274,"h":128,"l":-128},{"t":275,"h":120,"l":-120},{"t":276,"h":132,"l":-132},{"t":277,"h":146,"l":-146},{"t":278,"h":127,"l":-127},{"t":279,"h":119,"l":-119},{"t":280,"h":110,"l":-110},{"t":281,"h":111,"l":-111},{"t":282,"h":127,"l":-127},{"t":283,"h":155,"l":-155},{"t":284,"h":190,"l":-190},{"t":286,"h":117,"l":-117},{"t":288,"h":127,"l":-127},{"t":289,"h":176,"l":-176},{"t":291,"h":123,"l":-123},{"t":292,"h":127,"l":-127},{"t":293,"h":112,"l":-112},{"t":295,"h":119,"l":-119},{"t":296,"h":167,"l":-167},{"t":297,"h":172,"l":-172},{"t":298,"h":115,"l":-115},{"t":299,"h":144,"l":-144},{"t":300,"h":205,"l":-205},{"t":301,"h":118,"l":-118},{"t":302,"h":93,"l":-93},{"t":303,"h":96,"l":-96},{"t":304,"h":109,"l":-109},{"t":305,"h":114,"l":-114},{"t":306,"h":114,"l":-114},{"t":307,"h":114,"l":-114},{"t":308,"h":128,"l":-128},{"t":309,"h":122,"l":-122},{"t":310,"h":146,"l":-146},{"t":311,"h":112,"l":-112},{"t":312,"h":119,"l":-119},{"t":313,"h":118,"l":-118},{"t":314,"h":128,"l":-128},{"t":315,"h":135,"l":-135},{"t":318,"h":115,"l":-115},{"t":319,"h":122,"l":-122},{"t":320,"h":95,"l":-95},{"t":321,"h":138,"l":-138},{"t":322,"h":100,"l":-100},{"t":323,"h":120,"l":-120},{"t":327,"h":116,"l":-116},{"t":329,"h":96,"l":-96},{"t":331,"h":98,"l":-98},{"t":333,"h":99,"l":-99},{"t":334,"h":109,"l":-109},{"t":335,"h":135,"l":-135},{"t":336,"h":150,"l":-150},{"t":337,"h":146,"l":-146},{"t":338,"h":97,"l":-97},{"t":339,"h":97,"l":-97},{"t":340,"h":105,"l":-105},{"t":341,"h":144,"l":-144},{"t":342,"h":130,"l":-130},{"t":343,"h":99,"l":-99},{"t":344,"h":106,"l":-106},{"t":345,"h":120,"l":-120},{"t":346,"h":109,"l":-109},{"t":347,"h":123,"l":-123},{"t":348,"h":133,"l":-133},{"t":349,"h":93,"l":-93},{"t":350,"h":142,"l":-142},{"t":351,"h":139,"l":-139},{"t":352,"h":169,"l":-169},{"t":353,"h":116,"l":-116},{"t":354,"h":133,"l":-133},{"t":356,"h":119,"l":-119},{"t":357,"h":124,"l":-124},{"t":358,"h":161,"l":-161},{"t":359,"h":116,"l":-116},{"t":360,"h":109,"l":-109},{"t":361,"h":97,"l":-97},{"t":362,"h":167,"l":-167},{"t":364,"h":97,"l":-97},{"t":365,"h":115,"l":-115},{"t":366,"h":119,"l":-119},{"t":367,"h":137,"l":-137},{"t":368,"h":106,"l":-106},{"t":369,"h":131,"l":-131},{"t":371,"h":109,"l":-109},{"t":372,"h":75,"l":-75},{"t":373,"h":106,"l":-106},{"t":374,"h":116,"l":-116},{"t":375,"h":107,"l":-107},{"t":376,"h":69,"l":-69},{"t":377,"h":77,"l":-77},{"t":378,"h":104,"l":-104},{"t":380,"h":149,"l":-149},{"t":381,"h":73,"l":-73},{"t":382,"h":101,"l":-101},{"t":383,"h":119,"l":-119},{"t":384,"h":76,"l":-76},{"t":385,"h":92,"l":-92},{"t":386,"h":60,"l":-60},{"t":387,"h":90,"l":-90},{"t":388,"h":69,"l":-69},{"t":389,"h":63,"l":-63},{"t":391,"h":68,"l":-68},{"t":392,"h":123,"l":-123},{"t":393,"h":125,"l":-125},{"t":394,"h":94,"l":-94},{"t":397,"h":79,"l":-79},{"t":398,"h":94,"l":-94},{"t":399,"h":85,"l":-85},{"t":400,"h":63,"l":-63},{"t":401,"h":105,"l":-105},{"t":402,"h":63,"l":-63},{"t":403,"h":102,"l":-102},{"t":404,"h":102,"l":-102},{"t":405,"h":91,"l":-91},{"t":406,"h":71,"l":-71},{"t":407,"h":116,"l":-116},{"t":408,"h":69,"l":-69},{"t":409,"h":63,"l":-63},{"t":410,"h":90,"l":-90},{"t":411,"h":93,"l":-93},{"t":412,"h":77,"l":-77},{"t":413,"h":66,"l":-66},{"t":414,"h":78,"l":-78},{"t":416,"h":99,"l":-99},{"t":417,"h":102,"l":-102},{"t":418,"h":83,"l":-83},{"t":421,"h":125,"l":-125},{"t":422,"h":107,"l":-107},{"t":423,"h":72,"l":-72},{"t":424,"h":69,"l":-69},{"t":425,"h":86,"l":-86},{"t":426,"h":52,"l":-52},{"t":428,"h":62,"l":-62},{"t":429,"h":63,"l":-63},{"t":431,"h":54,"l":-54},{"t":432,"h":90,"l":-90},{"t":433,"h":67,"l":-67},{"t":434,"h":62,"l":-62},{"t":435,"h":85,"l":-85},{"t":436,"h":91,"l":-91},{"t":437,"h":90,"l":-90},{"t":439,"h":87,"l":-87},{"t":440,"h":87,"l":-87},{"t":442,"h":56,"l":-56},{"t":443,"h":112,"l":-112},{"t":444,"h":50,"l":-50},{"t":445,"h":64,"l":-64},{"t":446,"h":50,"l":-50},{"t":447,"h":57,"l":-57},{"t":448,"h":50,"l":-50},{"t":449,"h":75,"l":-75},{"t":450,"h":85,"l":-85},{"t":451,"h":84,"l":-84},{"t":452,"h":64,"l":-64},{"t":453,"h":69,"l":-69},{"t":454,"h":76,"l":-76},{"t":455,"h":69,"l":-69},{"t":456,"h":73,"l":-73},{"t":457,"h":91,"l":-91},{"t":458,"h":68,"l":-68},{"t":459,"h":56,"l":-56},{"t":462,"h":46,"l":-46},{"t":463,"h":85,"l":-85},{"t":464,"h":71,"l":-71},{"t":465,"h":79,"l":-79},{"t":466,"h":56,"l":-56},{"t":468,"h":85,"l":-85},{"t":469,"h":72,"l":-72},{"t":470,"h":55,"l":-55},{"t":472,"h":89,"l":-89},{"t":473,"h":72,"l":-72},{"t":474,"h":56,"l":-56},{"t":476,"h":51,"l":-51},{"t":477,"h":94,"l":-94},{"t":478,"h":59,"l":-59},{"t":480,"h":68,"l":-68},{"t":481,"h":49,"l":-49},{"t":482,"h":83,"l":-83},{"t":483,"h":56,"l":-56},{"t":484,"h":53,"l":-53},{"t":485,"h":44,"l":-44},{"t":489,"h":53,"l":-53},{"t":490,"h":49,"l":-49},{"t":491,"h":75,"l":-75},{"t":492,"h":88,"l":-88},{"t":493,"h":78,"l":-78},{"t":495,"h":81,"l":-81},{"t":496,"h":89,"l":-89},{"t":497,"h":85,"l":-85},{"t":499,"h":64,"l":-64},{"t":500,"h":41,"l":-41},{"t":505,"h":59,"l":-59},{"t":506,"h":66,"l":-66},{"t":507,"h":57,"l":-57},{"t":508,"h":46,"l":-46},{"t":509,"h":59,"l":-59},{"t":510,"h":56,"l":-56},{"t":511,"h":60,"l":-60},{"t":512,"h":43,"l":-43},{"t":513,"h":55,"l":-55},{"t":515,"h":53,"l":-53},{"t":516,"h":51,"l":-51},{"t":517,"h":58,"l":-58},{"t":519,"h":77,"l":-77},{"t":520,"h":39,"l":-39},{"t":524,"h":53,"l":-53},{"t":525,"h":37,"l":-37},{"t":526,"h":45,"l":-45},{"t":527,"h":59,"l":-59},{"t":528,"h":66,"l":-66},{"t":529,"h":52,"l":-52},{"t":531,"h":41,"l":-41},{"t":532,"h":53,"l":-53},{"t":533,"h":45,"l":-45},{"t":534,"h":37,"l":-37},{"t":537,"h":35,"l":-35},{"t":538,"h":49,"l":-49},{"t":539,"h":39,"l":-39},{"t":541,"h":36,"l":-36},{"t":542,"h":52,"l":-52},{"t":543,"h":34,"l":-34},{"t":544,"h":30,"l":-30},{"t":545,"h":34,"l":-34},{"t":546,"h":39,"l":-39},{"t":547,"h":38,"l":-38},{"t":548,"h":38,"l":-38},{"t":549,"h":37,"l":-37},{"t":550,"h":38,"l":-38},{"t":552,"h":47,"l":-47},{"t":554,"h":33,"l":-33},{"t":555,"h":35,"l":-35},{"t":558,"h":31,"l":-31},{"t":560,"h":41,"l":-41},{"t":561,"h":44,"l":-44},{"t":562,"h":37,"l":-37},{"t":563,"h":36,"l":-36},{"t":564,"h":31,"l":-31},{"t":565,"h":35,"l":-35},{"t":566,"h":32,"l":-32},{"t":567,"h":33,"l":-33},{"t":569,"h":40,"l":-40},{"t":570,"h":44,"l":-44},{"t":571,"h":53,"l":-53},{"t":572,"h":30,"l":-30},{"t":573,"h":36,"l":-36},{"t":574,"h":40,"l":-40},{"t":575,"h":49,"l":-49},{"t":577,"h":45,"l":-45},{"t":578,"h":35,"l":-35},{"t":579,"h":41,"l":-41},{"t":580,"h":57,"l":-57},{"t":581,"h":40,"l":-40},{"t":582,"h":35,"l":-35},{"t":583,"h":41,"l":-41},{"t":584,"h":25,"l":-25},{"t":586,"h":19,"l":-19},{"t":588,"h":26,"l":-26},{"t":591,"h":29,"l":-29},{"t":593,"h":25,"l":-25},{"t":595,"h":22,"l":-22},{"t":598,"h":19,"l":-19},{"t":600,"h":26,"l":-26},{"t":602,"h":19,"l":-19},{"t":605,"h":25,"l":-25},{"t":607,"h":19,"l":-19},{"t":610,"h":24,"l":-24},{"t":612,"h":18,"l":-18},{"t":615,"h":26,"l":-26},{"t":617,"h":20,"l":-20},{"t":620,"h":29,"l":-29},{"t":622,"h":19,"l":-19},{"t":625,"h":24,"l":-24},{"t":627,"h":18,"l":-18},{"t":630,"h":30,"l":-30},{"t":632,"h":22,"l":-22},{"t":635,"h":20,"l":-20},{"t":637,"h":17,"l":-17},{"t":640,"h":16,"l":-16},{"t":644,"h":20,"l":-20},{"t":652,"h":18,"l":-18},{"t":660,"h":17,"l":-17},{"t":664,"h":16,"l":-16},{"t":672,"h":17,"l":-17},{"t":680,"h":15,"l":-15},{"t":688,"h":15,"l":-15},{"t":696,"h":14,"l":-14},{"t":705,"h":14,"l":-14},{"t":715,"h":13,"l":-13},{"t":725,"h":12,"l":-12},{"t":735,"h":11,"l":-11},{"t":745,"h":11,"l":-11},{"t":755,"h":10,"l":-10},{"t":766,"h":10,"l":-10},{"t":778,"h":9,"l":-9},{"t":790,"h":8,"l":-8},{"t":802,"h":8,"l":-8},{"t":818,"h":7,"l":-7},{"t":842,"h":6,"l":-6},{"t":858,"h":5.5,"l":-5.5},{"t":900,"h":4,"l":-4},{"t":915,"h":4,"l":-4},{"t":945,"h":4,"l":-4},{"t":1048,"h":3,"l":-3},{"t":1052,"h":3,"l":-3},{"t":1090,"h":2.5,"l":-2.5},{"t":1125,"h":1.5,"l":-1.5},{"t":1128,"h":1.5,"l":-1.5},{"t":1132,"h":1.5,"l":-1.5},{"t":1136,"h":1.5,"l":-1.5},{"t":1140,"h":1.5,"l":-1.5},{"t":1146,"h":1.5,"l":-1.5},{"t":1152,"h":1.5,"l":-1.5},{"t":1158,"h":1.5,"l":-1.5},{"t":1164,"h":1.5,"l":-1.5},{"t":1170,"h":1.5,"l":-1.5},{"t":1178,"h":1.5,"l":-1.5},{"t":1186,"h":1.5,"l":-1.5},{"t":1192,"h":1.5,"l":-1.5},{"t":1200,"h":1.5,"l":-1.5},{"t":1210,"h":1.5,"l":-1.5},{"t":1222,"h":1.5,"l":-1.5},{"t":1236,"h":1.5,"l":-1.5},{"t":1252,"h":1.5,"l":-1.5},{"t":1270,"h":1.5,"l":-1.5}]
},
"vconcat":[
{"width":1800,"height":450,"layer":[
{"data":{"values":[{"a":0}]},"mark":{"type":"rule","color":"#06aee5","strokeWidth":1},"encoding":{"y":{"field":"a","type":"quantitative","scale":{"domain":[-224.5,225.5],"nice":false,"zero":false},"axis":null}}},
{"data":{"name":"coreL"},"mark":{"type":"area","color":"#06aee5","opacity":1},"encoding":{"x":{"field":"t","type":"quantitative","scale":{"domain":[-0.5,1799.5],"nice":false,"zero":false},"axis":null},"y":{"field":"h","type":"quantitative","scale":{"domain":[-224.5,225.5],"nice":false,"zero":false},"axis":null},"y2":{"field":"l"}}},
{"data":{"name":"L"},"mark":{"type":"rule","color":"#06aee5","strokeWidth":1},"encoding":{"x":{"field":"t","type":"quantitative","scale":{"domain":[-0.5,1799.5],"nice":false,"zero":false},"axis":null},"y":{"field":"h","type":"quantitative","scale":{"domain":[-224.5,225.5],"nice":false,"zero":false},"axis":null},"y2":{"field":"l"}}}
]},
{"width":1800,"height":450,"layer":[
{"data":{"values":[{"a":0}]},"mark":{"type":"rule","color":"#06aee5","strokeWidth":1},"encoding":{"y":{"field":"a","type":"quantitative","scale":{"domain":[-224.5,225.5],"nice":false,"zero":false},"axis":null}}},
{"data":{"name":"coreR"},"mark":{"type":"area","color":"#06aee5","opacity":1},"encoding":{"x":{"field":"t","type":"quantitative","scale":{"domain":[-0.5,1799.5],"nice":false,"zero":false},"axis":null},"y":{"field":"h","type":"quantitative","scale":{"domain":[-224.5,225.5],"nice":false,"zero":false},"axis":null},"y2":{"field":"l"}}},
{"data":{"name":"R"},"mark":{"type":"rule","color":"#06aee5","strokeWidth":1},"encoding":{"x":{"field":"t","type":"quantitative","scale":{"domain":[-0.5,1799.5],"nice":false,"zero":false},"axis":null},"y":{"field":"h","type":"quantitative","scale":{"domain":[-224.5,225.5],"nice":false,"zero":false},"axis":null},"y2":{"field":"l"}}}
]}
]}
